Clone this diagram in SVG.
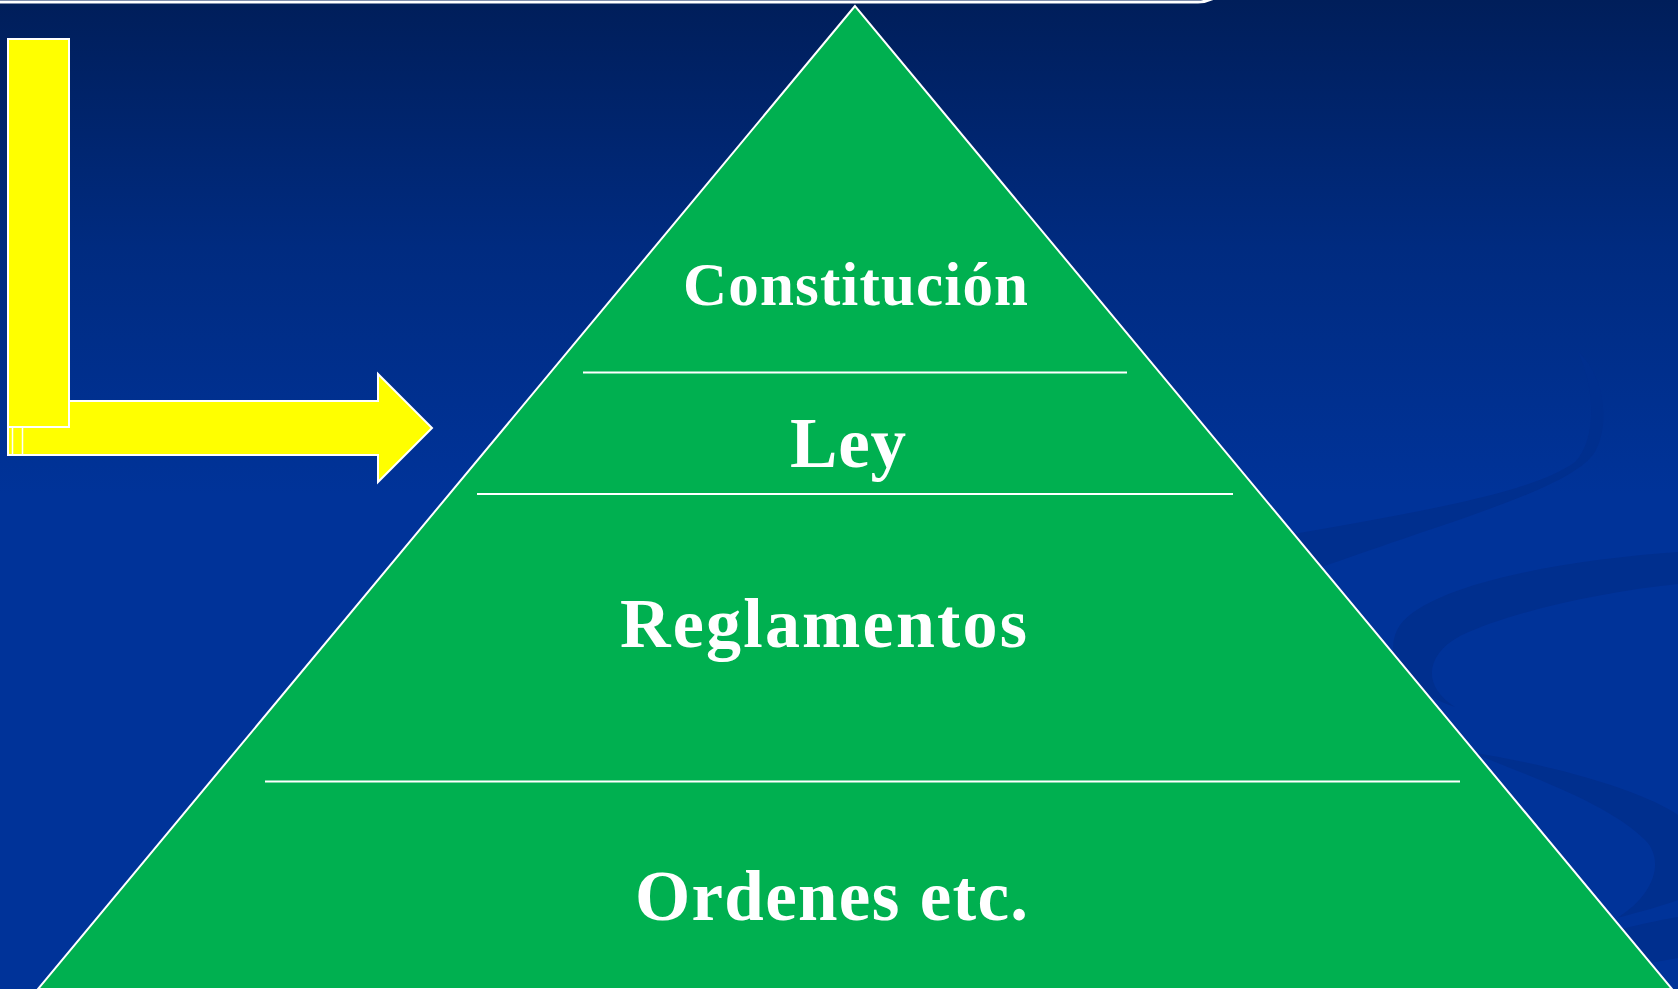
<svg xmlns="http://www.w3.org/2000/svg" width="1678" height="989" viewBox="0 0 1678 989">
  <defs>
    <linearGradient id="bg" x1="0" y1="0" x2="0" y2="989" gradientUnits="userSpaceOnUse">
      <stop offset="0" stop-color="#001e5a"/>
      <stop offset="0.25" stop-color="#002b80"/>
      <stop offset="0.5" stop-color="#003399"/>
      <stop offset="1" stop-color="#003399"/>
    </linearGradient>
    <style>
      .swirl { fill: #002f8e; }
      .yellow { fill: #ffff00; stroke: #ffffff; stroke-width: 2; }
      .tri { fill: #00b050; stroke: #ffffff; stroke-width: 2; }
      .div { stroke: #ffffff; stroke-width: 2; fill: none; }
      .lbl { font-family: "Liberation Serif", "Times New Roman", serif; font-weight: bold; fill: #ffffff; }
    </style>
  </defs>

  <g id="background">
    <rect x="0" y="0" width="1678" height="989" fill="url(#bg)"/>
    <path d="M0,2 L1198,2 Q1206,2 1214,-2" fill="none" stroke="#ffffff" stroke-width="3"/>
    <path class="swirl" d="M1578,352 C1602,372 1612,420 1595,452 C1570,490 1450,520 1300,575 L1260,540 C1400,515 1530,495 1575,462 C1596,440 1596,390 1578,352 Z"/>
    <path class="swirl" d="M1678,552 C1560,560 1430,585 1400,625 C1380,655 1405,690 1455,707 C1422,686 1425,655 1460,636 C1510,612 1600,592 1678,584 Z"/>
    <path class="swirl" d="M1470,752 C1570,768 1650,795 1678,815 L1678,900 C1665,905 1640,912 1617,918 C1655,895 1665,860 1645,840 C1610,805 1540,780 1470,752 Z"/>
    <path class="swirl" d="M1600,935 C1630,926 1660,920 1678,917 L1678,958 C1660,961 1640,965 1620,968 Z"/>
  </g>

  <g id="arrow">
    <polygon class="yellow" points="8,401 378,401 378,374 432,428 378,482 378,455 8,455"/>
    <rect class="yellow" x="8" y="39" width="61" height="388"/>
    <line x1="12.5" y1="428" x2="12.5" y2="454" stroke="#ffffff" stroke-width="1.5"/>
    <line x1="22.5" y1="428" x2="22.5" y2="454" stroke="#ffffff" stroke-width="1.5"/>
  </g>

  <g id="pyramid">
    <polygon class="tri" points="855,6 38,989 1672,989"/>
  </g>

  <g id="connectors">
    <line class="div" x1="583" y1="372.5" x2="1127" y2="372.5"/>
    <line class="div" x1="477" y1="494" x2="1233" y2="494"/>
    <line class="div" x1="265" y1="781.5" x2="1460" y2="781.5"/>
  </g>

  <g id="node-constitucion">
    <text class="lbl" x="683" y="305" font-size="61" textLength="345">Constitución</text>
  </g>
  <g id="node-ley">
    <text class="lbl" x="790" y="467" font-size="71" textLength="116">Ley</text>
  </g>
  <g id="node-reglamentos">
    <text class="lbl" x="620" y="647" font-size="70" textLength="407">Reglamentos</text>
  </g>
  <g id="node-ordenes">
    <text class="lbl" x="635" y="920" font-size="71" textLength="393">Ordenes etc.</text>
  </g>
</svg>
